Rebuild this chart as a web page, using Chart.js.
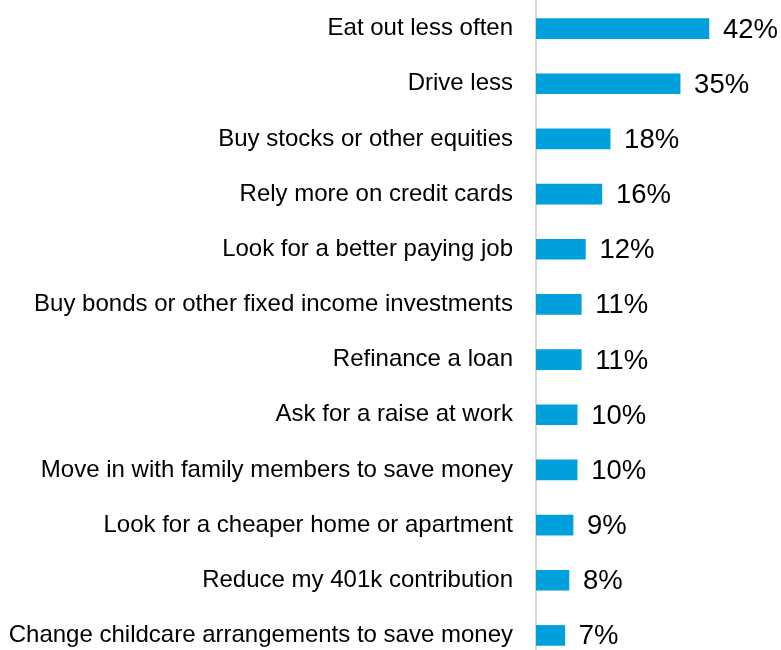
<!DOCTYPE html>
<html>
<head>
<meta charset="utf-8">
<script src="https://cdn.jsdelivr.net/npm/chart.js@4.4.0/dist/chart.umd.min.js"></script>
<style>
  html, body { margin: 0; padding: 0; background: #fff; overflow: hidden; }
  #wrap { width: 781px; height: 663px; }
</style>
</head>
<body>
<div id="wrap"><canvas id="chart" width="781" height="663"></canvas></div>
<script>
const categories = [
  'Eat out less often',
  'Drive less',
  'Buy stocks or other equities',
  'Rely more on credit cards',
  'Look for a better paying job',
  'Buy bonds or other fixed income investments',
  'Refinance a loan',
  'Ask for a raise at work',
  'Move in with family members to save money',
  'Look for a cheaper home or apartment',
  'Reduce my 401k contribution',
  'Change childcare arrangements to save money'
];
const shares = [42, 35, 18, 16, 12, 11, 11, 10, 10, 9, 8, 7];

const FONT = '"Liberation Sans", Arial, Helvetica, sans-serif';

// Writes the percentage just past the end of each bar
const valueLabels = {
  id: 'valueLabels',
  afterDatasetsDraw(chart) {
    const ctx = chart.ctx;
    const meta = chart.getDatasetMeta(0);
    ctx.save();
    ctx.font = '27.5px ' + FONT;
    ctx.fillStyle = '#000';
    ctx.textAlign = 'left';
    ctx.textBaseline = 'middle';
    meta.data.forEach((bar, i) => {
      ctx.fillText(shares[i] + '%', bar.x + 14, bar.y + 1.5);
    });
    ctx.restore();
  }
};

new Chart(document.getElementById('chart'), {
  type: 'bar',
  data: {
    labels: categories,
    datasets: [{
      data: shares,
      backgroundColor: '#00A0DC',
      borderWidth: 0,
      barThickness: 20
    }]
  },
  options: {
    indexAxis: 'y',
    responsive: false,
    animation: false,
    layout: { padding: { top: 1, bottom: 0, left: 0, right: 0 } },
    plugins: {
      legend: { display: false },
      tooltip: { enabled: false }
    },
    scales: {
      x: {
        display: false,
        min: 0,
        max: 59.5
      },
      y: {
        afterFit(scale) {
          scale.width = 536;
          scale.paddingTop = 0;
          scale.paddingBottom = 0;
        },
        grid: { display: false, drawTicks: false },
        border: { display: true, color: '#d9d9d9', width: 2 },
        ticks: {
          padding: 23,
          color: '#000',
          font: { family: FONT, size: 24 }
        }
      }
    }
  },
  plugins: [valueLabels]
});
</script>
</body>
</html>
